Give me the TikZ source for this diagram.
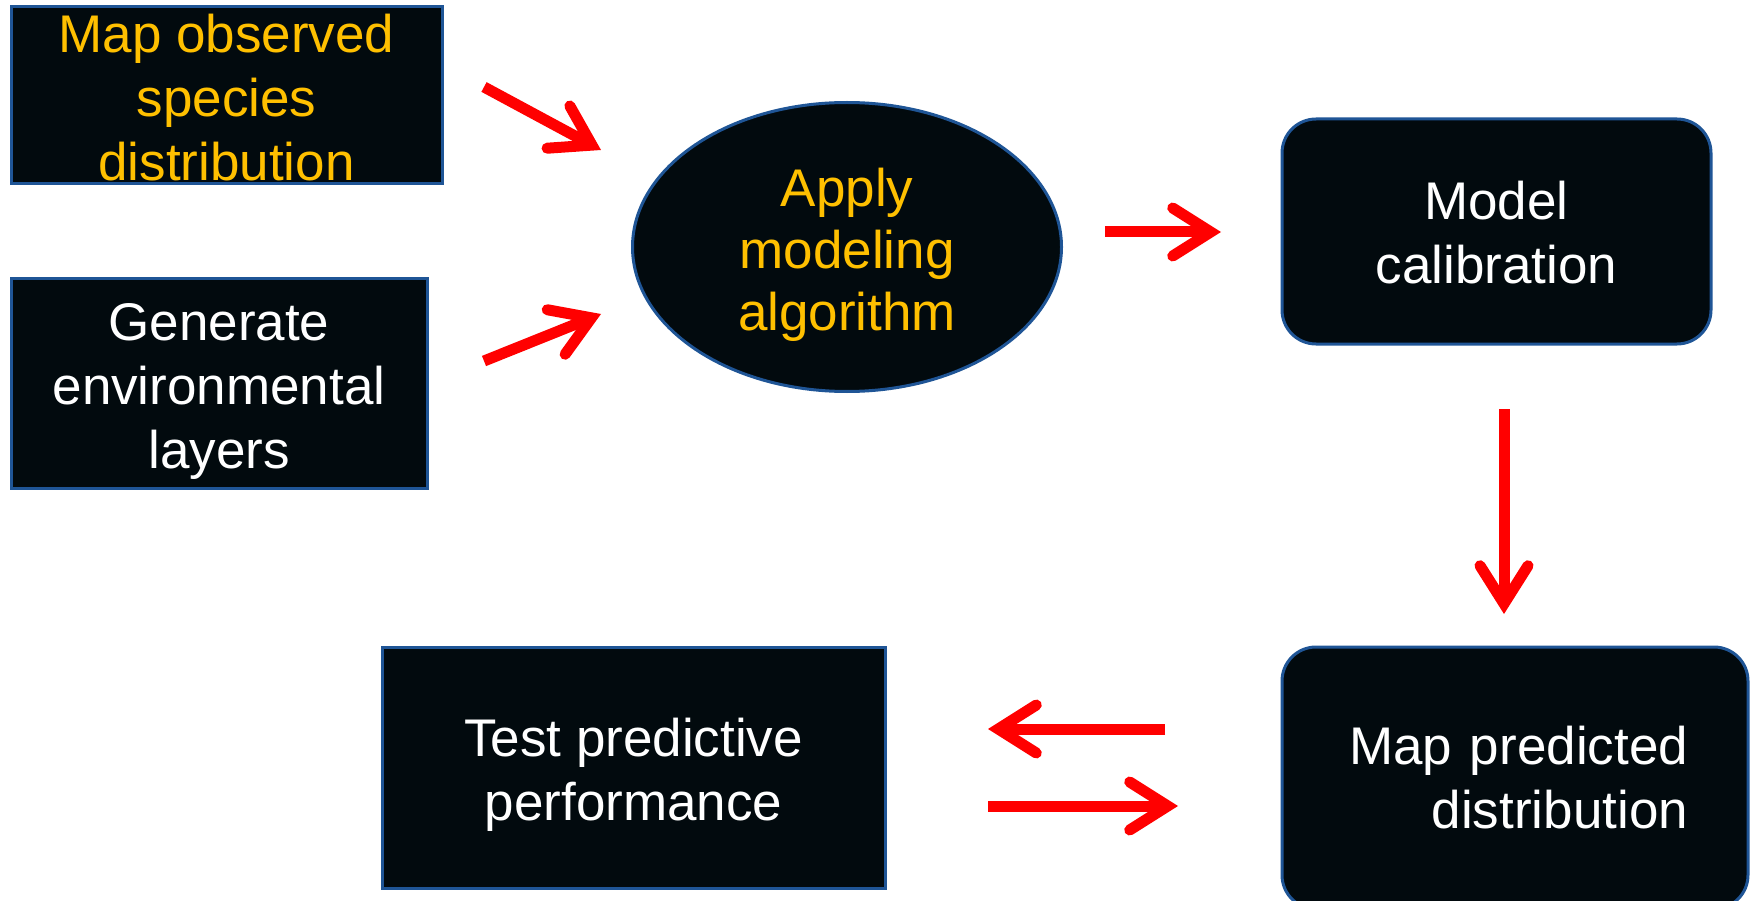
\documentclass[tikz,border=0pt]{standalone}
\usepackage{fontspec}
\setmainfont{Liberation Sans}
\usetikzlibrary{arrows.meta,shapes.geometric}
\definecolor{boxfill}{HTML}{020A0E}
\definecolor{boxline}{HTML}{1F5596}
\definecolor{ylw}{HTML}{FFC000}
\definecolor{arrred}{HTML}{FF0000}
\begin{document}
\begin{tikzpicture}[x=1pt,y=-1pt,
  box/.style={draw=boxline, line width=3pt, fill=boxfill, inner sep=0pt},
  rbox/.style={box, rounded corners=34pt},
  ebox/.style={box, ellipse},
  txt/.style={inner sep=0pt, align=center, text=white, font=\fontsize{53}{64}\selectfont},
  arr/.style={draw=arrred, line width=11pt,
    -{Straight Barb[length=38pt,width=48pt,line cap=round,line join=miter]}}
]
\useasboundingbox (0,0) rectangle (1756,901);
\begin{scope}
\clip (0,0) rectangle (1756,901);
\node[box, minimum width=431pt, minimum height=177pt] (obs) at (226.5,95.5) {};
\node[box, minimum width=416pt, minimum height=209pt] (gen) at (219,383.5) {};
\node[ebox, minimum width=429pt, minimum height=289pt] (alg) at (847,247) {};
\node[rbox, minimum width=429pt, minimum height=225pt] (cal) at (1496.5,231.5) {};
\node[rbox, minimum width=466pt, minimum height=262pt] (pred) at (1515,778) {};
\node[box, minimum width=503pt, minimum height=241pt] (test) at (633.5,767.5) {};
\end{scope}
\node[txt, text=ylw] (obst) at ([yshift=-2pt]obs.center) {Map observed\\species\\distribution};
\node[txt] (gent) at ([yshift=-8pt]gen.center) {Generate\\environmental\\layers};
\node[txt, text=ylw, font=\fontsize{53}{62}\selectfont] (algt) at ([yshift=-8pt]alg.center) {Apply\\modeling\\algorithm};
\node[txt] (calt) at ([yshift=-1pt]cal.center) {Model\\calibration};
\node[txt, align=right, text width=346pt] (predt) at (pred.center) {Map predicted\\distribution};
\node[txt] (testt) at ([yshift=-7pt]test.center) {Test predictive\\performance};
\coordinate (a1s) at (484,87);   \coordinate (a1e) at (601,150);
\coordinate (a2s) at (484,361);  \coordinate (a2e) at (601,314);
\coordinate (a3s) at (1105,232); \coordinate (a3e) at (1221,232);
\coordinate (a4s) at (1504,409); \coordinate (a4e) at (1504,614);
\coordinate (a5s) at (1165,729); \coordinate (a5e) at (988,729);
\coordinate (a6s) at (988,806);  \coordinate (a6e) at (1178,806);
\draw[arr] (a1s) -- (a1e);
\draw[arr] (a2s) -- (a2e);
\draw[arr] (a3s) -- (a3e);
\draw[arr] (a4s) -- (a4e);
\draw[arr] (a5s) -- (a5e);
\draw[arr] (a6s) -- (a6e);
\end{tikzpicture}
\end{document}
